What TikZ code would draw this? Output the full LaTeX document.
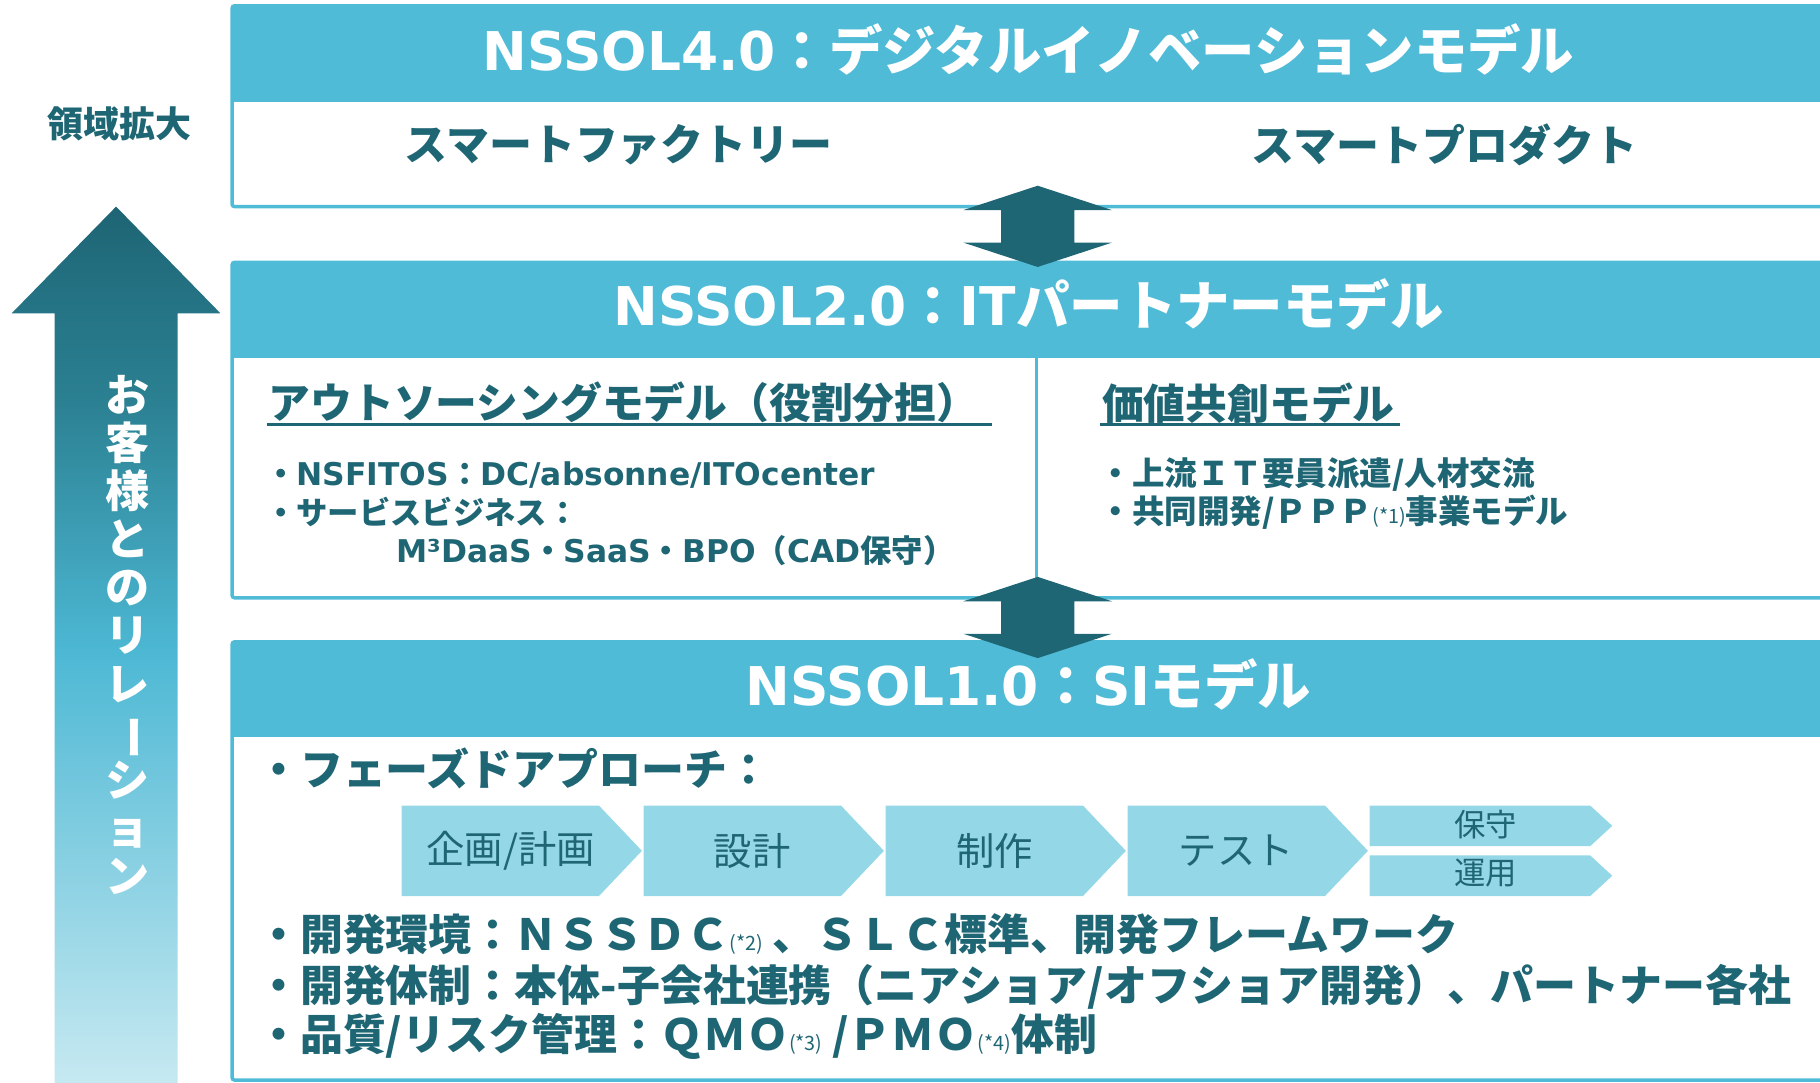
\documentclass[tikz,border=0pt]{standalone}
\usepackage{fontspec}
\usepackage{graphicx}
\setmainfont{Noto Sans CJK JP}
\newfontfamily\vlat{DejaVu Sans}
\usetikzlibrary{calc}

\definecolor{hdr}{HTML}{4FBBD7}
\definecolor{deep}{HTML}{1F6675}
\definecolor{chev}{HTML}{94D7E7}
\definecolor{relTop}{HTML}{1E6474}
\definecolor{relHead}{HTML}{257586}
\definecolor{relA}{HTML}{2A7F90}
\definecolor{relB}{HTML}{4DB8D4}
\definecolor{relC}{HTML}{C6E9F1}
\pgfdeclareverticalshading{relation}{100bp}{color(0bp)=(relC); color(25bp)=(relC);
  color(49.6bp)=(relB); color(64.3bp)=(relA); color(68.9bp)=(relHead);
  color(75bp)=(relTop); color(100bp)=(relTop)}
\newcommand\refmark[1]{{\mdseries\fontsize{17}{17}\selectfont #1}}

\begin{document}
\begin{tikzpicture}[x=1pt, y=-1pt,
  title/.style={text=white, font=\bfseries\fontsize{46}{50}\selectfont},
  sub/.style={anchor=west, text=deep, font=\bfseries\fontsize{37}{40}\selectfont},
  head/.style={anchor=west, text=deep, font=\bfseries\fontsize{36}{40}\selectfont},
  item/.style={anchor=west, text=deep, font=\bfseries\fontsize{27}{30}\selectfont},
  big/.style={anchor=west, text=deep, font=\bfseries\fontsize{37}{40}\selectfont},
  phasetext/.style={text=deep, font=\fontsize{33}{36}\selectfont},
  box/.style={draw=hdr, line width=3, rounded corners=2}]
\clip (0,0) rectangle (1568,933);

% left arrow
\shade[shading=relation] (100,178) -- (190,270) -- (153,270) -- (153,933)
  -- (47,933) -- (47,270) -- (10,270) -- cycle;
\node[text=white, align=center, font=\bfseries\fontsize{38}{41.5}\selectfont] (rel) at (110,547)
  {お\\客\\様\\と\\の\\リ\\レ\\\rotatebox[origin=c]{-90}{ー}\\シ\\ョ\\ン};
\node[text=deep, font=\bfseries\fontsize{31}{34}\selectfont] (ry) at (103,107) {領域拡大};

% NSSOL4.0
\draw[box] (200,5) rectangle (1590,178);
\fill[hdr] (200,5) rectangle (1590,88);
\node[title] (t4) at (886,43) {{\vlat NSSOL4.0}：デジタルイノベーションモデル};
\node[sub] (fa) at (345,125) {スマートファクトリー};
\node[sub] (pr) at (1075,125) {スマートプロダクト};

% NSSOL2.0
\draw[box] (200,226) rectangle (1590,515);
\fill[hdr] (200,226) rectangle (1590,308);
\draw[hdr, line width=3] (893,308) -- (893,515);
\node[title] (t2) at (886,262) {{\vlat NSSOL2.0}：{\vlat IT}パートナーモデル};
\node[head] (os) at (228,347) {アウトソーシングモデル（役割分担）};
\draw[deep, line width=2.5] (230,366) -- (855,366);
\node[item] (b1) at (225,409) {・{\vlat NSFITOS}：{\vlat DC/absonne/ITOcenter}};
\node[item] (b2) at (225,441) {・サービスビジネス：};
\node[item] (b3) at (338,474) {{\vlat M³DaaS}・{\vlat SaaS}・{\vlat BPO}（{\vlat CAD}保守）};
\node[head] (kc) at (946,347) {価値共創モデル};
\draw[deep, line width=2.5] (948,366) -- (1206,366);
\node[item, font=\bfseries\fontsize{28}{30}\selectfont] (b4) at (944,409) {・上流ＩＴ要員派遣/人材交流};
\node[item, font=\bfseries\fontsize{28}{30}\selectfont] (b5) at (944,441) {・共同開発/ＰＰＰ\refmark{(*1)}事業モデル};

% NSSOL1.0
\draw[box] (200,553) rectangle (1590,930.5);
\fill[hdr] (200,553) rectangle (1590,635);
\node[title] (t1) at (886,590) {{\vlat NSSOL1.0}：{\vlat SI}モデル};
\node[big] (ph) at (218,662) {・フェーズドアプローチ：};
\foreach \x in {346,554.5,763,971.5}
  \fill[chev] (\x,694) -- ++(170,0) -- ++(37,39) -- ++(-37,39) -- ++(-170,0) -- cycle;
\fill[chev] (1180,694) -- ++(190,0) -- ++(19,17.5) -- ++(-19,17.5) -- ++(-190,0) -- cycle;
\fill[chev] (1180,737) -- ++(190,0) -- ++(19,17.5) -- ++(-19,17.5) -- ++(-190,0) -- cycle;
\node[phasetext] (p1) at (440,733) {企画/計画};
\node[phasetext] (p2) at (648,733) {設計};
\node[phasetext] (p3) at (857,733) {制作};
\node[phasetext] (p4) at (1065,733) {テスト};
\node[phasetext, font=\fontsize{27}{30}\selectfont] (p5) at (1280,710) {保守};
\node[phasetext, font=\fontsize{27}{30}\selectfont] (p6) at (1280,752) {運用};
\node[big] (d1) at (218,805) {・開発環境：ＮＳＳＤＣ\refmark{(*2)} 、ＳＬＣ標準、開発フレームワーク};
\node[big] (d2) at (218,850) {・開発体制：本体-子会社連携（ニアショア/オフショア開発）、パートナー各社};
\node[big] (d3) at (218,893) {・品質/リスク管理：ＱＭＯ\refmark{(*3)} /ＰＭＯ\refmark{(*4)}体制};

% double arrows
\coordinate (m1) at (894,195);
\coordinate (m2) at (894,532);
\fill[deep] (m1) ++(0,-35) -- ++(64,21) -- ++(-32.5,0) -- ++(0,28) -- ++(32.5,0) -- ++(-64,21)
  -- ++(-64,-21) -- ++(32.5,0) -- ++(0,-28) -- ++(-32.5,0) -- cycle;
\fill[deep] (m2) ++(0,-35) -- ++(64,21) -- ++(-32.5,0) -- ++(0,28) -- ++(32.5,0) -- ++(-64,21)
  -- ++(-64,-21) -- ++(32.5,0) -- ++(0,-28) -- ++(-32.5,0) -- cycle;
\end{tikzpicture}
\end{document}
